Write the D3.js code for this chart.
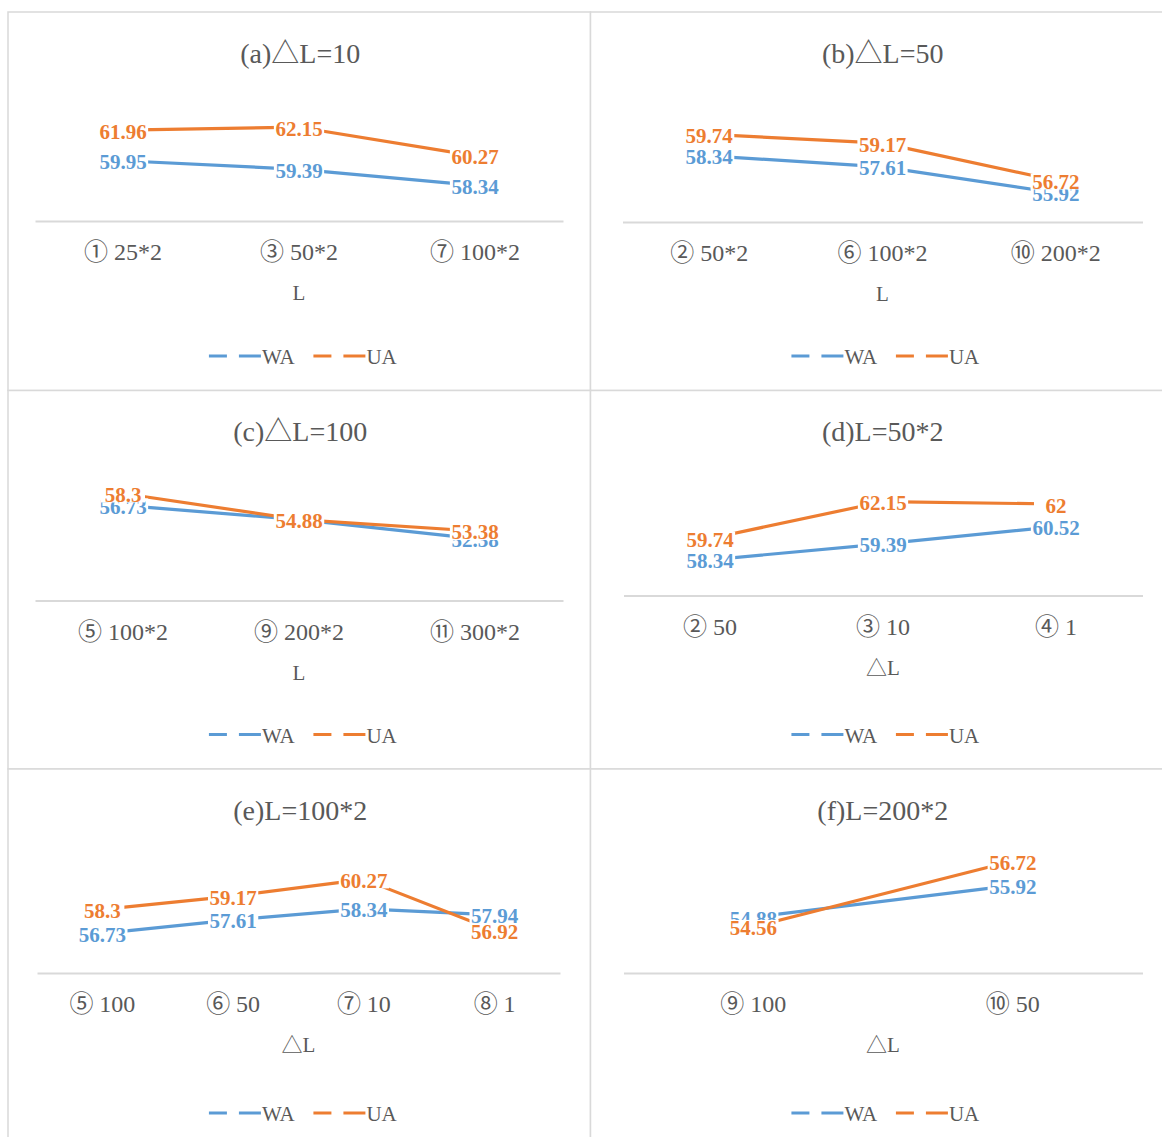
<!DOCTYPE html>
<html>
<head>
<meta charset="utf-8">
<script src="https://cdn.jsdelivr.net/npm/d3@7"></script>
<style>
  html, body { margin: 0; padding: 0; background: #ffffff; }
  svg { display: block; }
  text { font-family: "Liberation Serif", "Noto Sans CJK SC", serif; }
</style>
</head>
<body>
<svg id="chart" width="1162" height="1137"></svg>
<script>
// ---- data ----
const panelTitles = ["(a)△L=10", "(b)△L=50", "(c)△L=100", "(d)L=50*2", "(e)L=100*2", "(f)L=200*2"];
const axisTitles = ["L", "L", "L", "△L", "△L", "△L"];
const seriesNames = ["WA", "UA"];

const categoriesA = ["① 25*2", "③ 50*2", "⑦ 100*2"];
const waA = [59.95, 59.39, 58.34];
const uaA = [61.96, 62.15, 60.27];

const categoriesB = ["② 50*2", "⑥ 100*2", "⑩ 200*2"];
const waB = [58.34, 57.61, 55.92];
const uaB = [59.74, 59.17, 56.72];

const categoriesC = ["⑤ 100*2", "⑨ 200*2", "⑪ 300*2"];
const waC = [56.73, 54.88, 52.38];
const uaC = [58.3, 54.88, 53.38];

const categoriesD = ["② 50", "③ 10", "④ 1"];
const waD = [58.34, 59.39, 60.52];
const uaD = [59.74, 62.15, 62];

const categoriesE = ["⑤ 100", "⑥ 50", "⑦ 10", "⑧ 1"];
const waE = [56.73, 57.61, 58.34, 57.94];
const uaE = [58.3, 59.17, 60.27, 56.92];

const categoriesF = ["⑨ 100", "⑩ 50"];
const waF = [54.88, 55.92];
const uaF = [54.56, 56.72];

// value-axis ranges (axis itself hidden)
const yDomains = [[56, 64], [54, 62], [44, 60], [56, 64], [54, 62], [53, 57]];

// ---- layout ----
const colors = { WA: "#5b9bd5", UA: "#ed7d31" };
const textGray = "#595959";
const borderGray = "#d9d9d9";
const panelW = 582.5, panelH = 378.5, originX = 8, originY = 12;
const plotH = 122;
const axisY = [209, 210, 210, 205, 204, 204];       // category axis line, relative to panel top
const plotShift = [0, 0, 2, 0, 2, 1.5];             // value-scale floor below the axis line
const plotX = [[27, 555], [32, 552], [27, 555], [33, 552], [29, 552], [33, 552]];

const panels = [
  { cats: categoriesA, wa: waA, ua: uaA },
  { cats: categoriesB, wa: waB, ua: uaB },
  { cats: categoriesC, wa: waC, ua: uaC },
  { cats: categoriesD, wa: waD, ua: uaD },
  { cats: categoriesE, wa: waE, ua: uaE },
  { cats: categoriesF, wa: waF, ua: uaF }
];

const svg = d3.select("#chart");

panels.forEach((p, i) => {
  const col = i % 2, row = Math.floor(i / 2);
  const g = svg.append("g")
    .attr("transform", `translate(${originX + col * panelW},${originY + row * panelH})`);

  // chart frame
  g.append("rect")
    .attr("x", 0).attr("y", 0)
    .attr("width", panelW).attr("height", panelH)
    .attr("fill", "#ffffff")
    .attr("stroke", borderGray).attr("stroke-width", 1.5);

  // title
  g.append("text")
    .attr("x", panelW / 2 + 1).attr("y", 41)
    .attr("text-anchor", "middle").attr("dominant-baseline", "central")
    .attr("font-size", 28).attr("fill", textGray)
    .text(panelTitles[i]);

  const x = d3.scaleBand().domain(p.cats).range(plotX[i]);
  const floor = axisY[i] + plotShift[i];
  const y = d3.scaleLinear().domain(yDomains[i]).range([floor, floor - plotH]);

  // category axis
  const axis = d3.axisBottom(x).tickSize(0).tickPadding(0);
  const ax = g.append("g").attr("transform", `translate(0,${axisY[i]})`).call(axis);
  ax.select(".domain").attr("stroke", borderGray).attr("stroke-width", 1.8);
  ax.selectAll(".tick text")
    .attr("y", 31).attr("dy", null)
    .attr("dominant-baseline", "central")
    .attr("font-size", 24).attr("fill", textGray)
    .attr("font-family", "\"Liberation Serif\", \"Noto Sans CJK SC\", serif");

  // axis title
  g.append("text")
    .attr("x", (plotX[i][0] + plotX[i][1]) / 2).attr("y", axisY[i] + 72)
    .attr("text-anchor", "middle").attr("dominant-baseline", "central")
    .attr("font-size", 21).attr("fill", textGray)
    .text(axisTitles[i]);

  const cx = d => x(d) + x.bandwidth() / 2;
  const line = d3.line().x(d => cx(d.cat)).y(d => y(d.v));

  const series = [
    { name: "WA", pts: p.cats.map((c, k) => ({ cat: c, v: p.wa[k] })) },
    { name: "UA", pts: p.cats.map((c, k) => ({ cat: c, v: p.ua[k] })) }
  ];

  series.forEach(s => {
    g.append("path")
      .datum(s.pts)
      .attr("d", line)
      .attr("fill", "none")
      .attr("stroke", colors[s.name])
      .attr("stroke-width", 3.2)
      .attr("stroke-linejoin", "round")
      .attr("stroke-linecap", "round");
  });

  // data labels, boxed in white, centred on their points
  series.forEach(s => {
    const lg = g.append("g").selectAll("g").data(s.pts).join("g")
      .attr("transform", d => `translate(${cx(d.cat)},${y(d.v)})`);
    lg.append("text")
      .attr("text-anchor", "middle").attr("dominant-baseline", "central")
      .attr("dy", 1.5)
      .attr("font-size", 21).attr("font-weight", "bold")
      .attr("fill", colors[s.name])
      .text(d => String(d.v));
    lg.each(function () {
      const node = d3.select(this);
      const w = Math.max(node.select("text").node().getComputedTextLength() + 3, 44);
      node.insert("rect", "text")
        .attr("x", -w / 2).attr("y", -7).attr("width", w).attr("height", 16)
        .attr("fill", "#ffffff");
    });
  });

  // legend
  const leg = g.append("g").attr("transform", `translate(0,344)`);
  const items = leg.selectAll("g").data(seriesNames).join("g");
  items.each(function (name) {
    const it = d3.select(this);
    it.append("line").attr("x1", 0).attr("x2", 18).attr("y1", 0).attr("y2", 0)
      .attr("stroke", colors[name]).attr("stroke-width", 3);
    it.append("line").attr("x1", 30).attr("x2", 52).attr("y1", 0).attr("y2", 0)
      .attr("stroke", colors[name]).attr("stroke-width", 3);
    it.append("text").attr("x", 53).attr("y", 0)
      .attr("dominant-baseline", "central").attr("dy", 1)
      .attr("font-size", 21).attr("fill", textGray)
      .text(name);
  });
  let offset = 0;
  const widths = [];
  items.each(function () { widths.push(this.getBBox().width); });
  const gap = 18;
  const total = d3.sum(widths) + gap * (widths.length - 1);
  const start = panelW / 2 - total / 2 + 4;
  items.attr("transform", (d, k) => {
    const tx = start + offset;
    offset += widths[k] + gap;
    return `translate(${tx},0)`;
  });
});
</script>
</body>
</html>
